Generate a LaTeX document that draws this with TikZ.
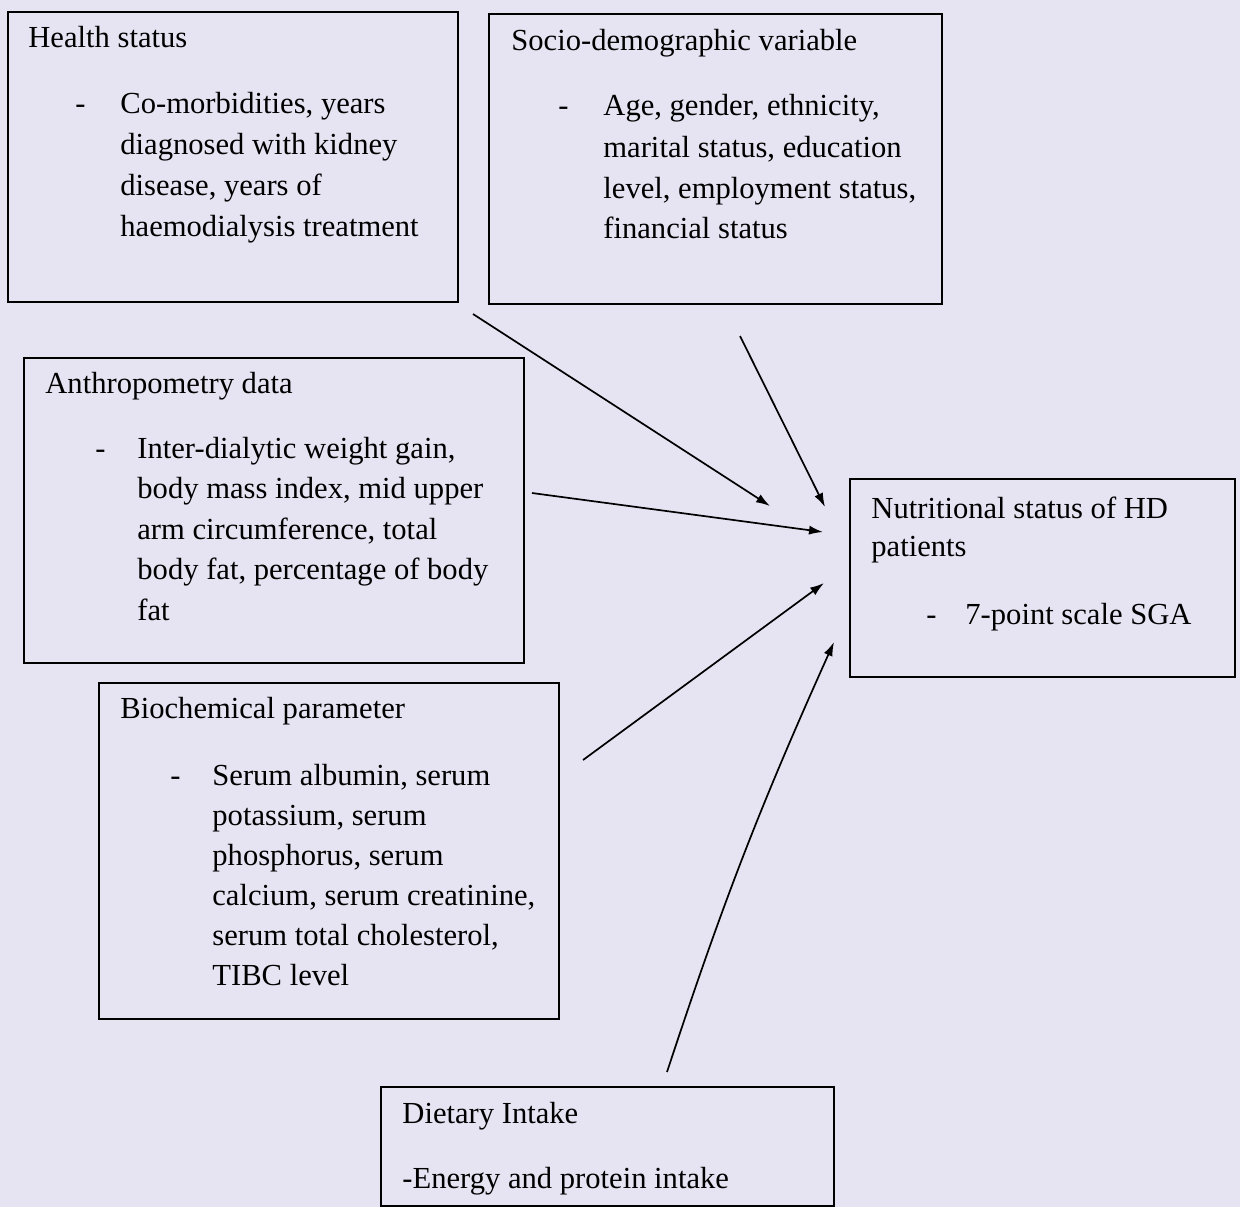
\documentclass[tikz,border=0pt]{standalone}
\usepackage{fontspec}
\setmainfont{Liberation Serif}
\usetikzlibrary{arrows.meta}
\definecolor{paper}{RGB}{230,228,242}
\begin{document}
\begin{tikzpicture}[x=0.5pt,y=-0.5pt,
  box/.style={draw=black,line width=0.9pt,anchor=north west,inner sep=0pt,rectangle},
  txt/.style={anchor=base west,inner sep=0pt,font=\fontsize{15.3}{20.5}\selectfont},
  arr/.style={line width=0.85pt,-{Latex[length=7pt,width=4.6pt]}}]
\fill[paper] (0,0) rectangle (1240,1207);
\useasboundingbox (0,0) rectangle (1240,1207);
% boxes
\node[box,minimum width=225pt,minimum height=145pt] (hsbox) at (7,11) {};
\node[box,minimum width=226.5pt,minimum height=145pt] (sdbox) at (488,13) {};
\node[box,minimum width=250pt,minimum height=152.5pt] (anbox) at (23,357) {};
\node[box,minimum width=192.5pt,minimum height=99pt] (nsbox) at (849,478) {};
\node[box,minimum width=230pt,minimum height=168pt] (bcbox) at (98,682) {};
\node[box,minimum width=226.5pt,minimum height=59.5pt] (dibox) at (380,1086) {};
% Health status
\node[txt] (hst) at (28,47) {Health status};
\node[txt] (hsd) at (75,113) {-};
\node[txt] (hs1) at (120,113) {Co-morbidities, years};
\node[txt] (hs2) at (120,154) {diagnosed with kidney};
\node[txt] (hs3) at (120,195) {disease, years of};
\node[txt] (hs4) at (120,236) {haemodialysis treatment};
% Socio-demographic
\node[txt] (sdt) at (511,50) {Socio-demographic variable};
\node[txt] (sdd) at (558,115) {-};
\node[txt] (sd1) at (603,115) {Age, gender, ethnicity,};
\node[txt] (sd2) at (603,157) {marital status, education};
\node[txt] (sd3) at (603,198) {level, employment status,};
\node[txt] (sd4) at (603,238) {financial status};
% Anthropometry
\node[txt] (ant) at (45,393) {Anthropometry data};
\node[txt] (and) at (95,458) {-};
\node[txt] (an1) at (137,458) {Inter-dialytic weight gain,};
\node[txt] (an2) at (137,498.5) {body mass index, mid upper};
\node[txt] (an3) at (137,539) {arm circumference, total};
\node[txt] (an4) at (137,579.5) {body fat, percentage of body};
\node[txt] (an5) at (137,620) {fat};
% Nutritional status
\node[txt] (nst) at (871,518) {Nutritional status of HD};
\node[txt] (ns2) at (871,556) {patients};
\node[txt] (nsd) at (926,624) {-};
\node[txt] (ns1) at (965,624) {7-point scale SGA};
% Biochemical
\node[txt] (bct) at (120,718) {Biochemical parameter};
\node[txt] (bcd) at (170,785) {-};
\node[txt] (bc1) at (212,785) {Serum albumin, serum};
\node[txt] (bc2) at (212,825) {potassium, serum};
\node[txt] (bc3) at (212,865) {phosphorus, serum};
\node[txt] (bc4) at (212,905) {calcium, serum creatinine,};
\node[txt] (bc5) at (212,945) {serum total cholesterol,};
\node[txt] (bc6) at (212,985) {TIBC level};
% Dietary
\node[txt] (dit) at (402,1123) {Dietary Intake};
\node[txt] (di1) at (402,1188) {-Energy and protein intake};
% connector ends
\coordinate (a1s) at (473,314);
\coordinate (a1e) at (770,506);
\coordinate (a2s) at (740,336);
\coordinate (a2e) at (825,507);
\coordinate (a3s) at (532,493);
\coordinate (a3e) at (823,532);
\coordinate (a4s) at (583,760);
\coordinate (a4e) at (824,583);
\coordinate (a5s) at (667,1072);
\coordinate (a5e) at (834,642);
\draw[arr] (a1s) -- (a1e);
\draw[arr] (a2s) -- (a2e);
\draw[arr] (a3s) -- (a3e);
\draw[arr] (a4s) -- (a4e);
\draw[arr] (a5s) to[bend left=3] (a5e);
\end{tikzpicture}
\end{document}
